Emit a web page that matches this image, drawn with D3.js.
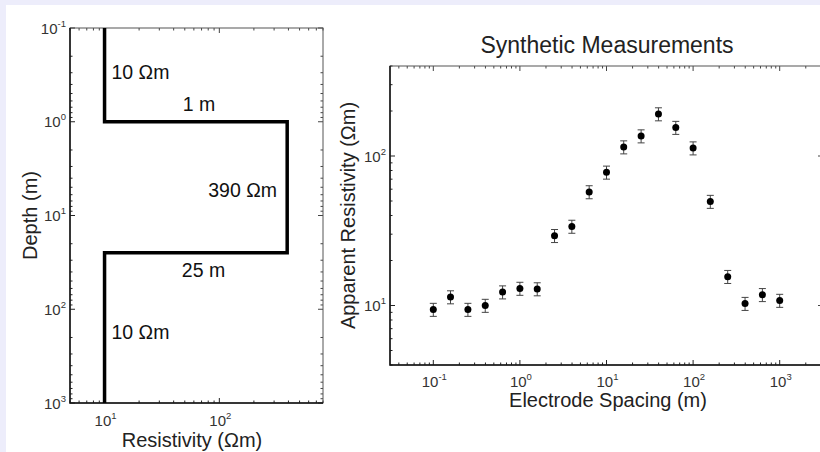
<!DOCTYPE html>
<html>
<head>
<meta charset="utf-8">
<script src="https://cdn.jsdelivr.net/npm/d3@7"></script>
<style>
  html, body { margin: 0; padding: 0; background: #ededfb; }
  svg { display: block; }
  text { font-family: "Liberation Sans", Arial, sans-serif; }
</style>
</head>
<body>
<div id="chart"></div>
<script>
// layered earth model (left panel)
let modelRes = [10, 10, 390, 390, 10, 10]
let modelDepth = [0.1, 1, 1, 25, 25, 1000]
let modelLabels = [
  {text: '10 \u03A9m', res: 11.5, depth: 0.352, anchor: 'start'},
  {text: '1 m', res: 66.5, depth: 0.767, anchor: 'middle'},
  {text: '390 \u03A9m', res: 318, depth: 6.3, anchor: 'end'},
  {text: '25 m', res: 72.8, depth: 45, anchor: 'middle'},
  {text: '10 \u03A9m', res: 11.5, depth: 207, anchor: 'start'}
]

// synthetic measurements (right panel)
let spacing = [0.1, 0.158, 0.251, 0.398, 0.631, 1, 1.585, 2.512, 3.98, 6.31, 10,
               15.8, 25.1, 39.8, 63.1, 100, 158, 251, 398, 631, 1000]
let appRes = [9.4, 11.4, 9.4, 10.0, 12.3, 13.0, 12.9, 29.3, 33.8, 57.5, 77.8,
              114.8, 136, 191, 155, 113, 49.6, 15.6, 10.3, 11.8, 10.8]
let relErr = 0.1

let w = 820
let h = 452

const svg = d3.select('#chart')
  .append('svg')
    .attr('width', w)
    .attr('height', h)

// white figure area
svg.append('rect')
  .attr('x', 6).attr('y', 5)
  .attr('width', w - 6).attr('height', h - 5)
  .attr('fill', 'white')

function powLabel(sel, exp) {
  sel.append('tspan').text('10')
  sel.append('tspan')
    .attr('dy', -7)
    .attr('font-size', 9.5)
    .text(exp)
}

// draws the log ticks on all four sides, pointing inward
function logFrame(g, x, y, width, height, xLabOff) {
  const xt = x.ticks().filter(v => v >= x.domain()[0] && v <= x.domain()[1])
  const yt = y.ticks().filter(v => v >= y.domain()[0] && v <= y.domain()[1])
  const isMajor = v => Math.abs(Math.log10(v) - Math.round(Math.log10(v))) < 1e-6

  xt.forEach(v => {
    let len = isMajor(v) ? 5 : 2.5
    g.append('line').attr('x1', x(v)).attr('x2', x(v)).attr('y1', height).attr('y2', height - len)
      .attr('stroke', '#222')
    g.append('line').attr('x1', x(v)).attr('x2', x(v)).attr('y1', 0).attr('y2', len)
      .attr('stroke', '#444')
  })
  yt.forEach(v => {
    let len = isMajor(v) ? 5 : 2.5
    g.append('line').attr('y1', y(v)).attr('y2', y(v)).attr('x1', 0).attr('x2', len)
      .attr('stroke', '#222')
    g.append('line').attr('y1', y(v)).attr('y2', y(v)).attr('x1', width).attr('x2', width - len)
      .attr('stroke', '#444')
  })

  g.append('rect')
    .attr('width', width).attr('height', height)
    .attr('fill', 'none').attr('stroke', '#555').attr('stroke-width', 1)
  g.append('path')
    .attr('d', 'M0,0V' + height + 'H' + width)
    .attr('fill', 'none').attr('stroke', '#111').attr('stroke-width', 1.5)

  g.selectAll('.xlab')
    .data(xt.filter(isMajor))
    .enter()
    .append('text')
      .attr('x', v => x(v) + 1)
      .attr('y', height + xLabOff)
      .attr('text-anchor', 'middle')
      .attr('font-size', 15)
      .attr('fill', '#333')
      .each(function (v) { powLabel(d3.select(this), Math.round(Math.log10(v))) })

  g.selectAll('.ylab')
    .data(yt.filter(isMajor))
    .enter()
    .append('text')
      .attr('x', -4)
      .attr('y', v => y(v) + 5.5)
      .attr('text-anchor', 'end')
      .attr('font-size', 15)
      .attr('fill', '#333')
      .each(function (v) { powLabel(d3.select(this), Math.round(Math.log10(v))) })
}

// ---- left panel: model ----
const m1 = {left: 70, top: 28, width: 253, height: 375}
const g1 = svg.append('g')
  .attr('transform', 'translate(' + m1.left + ',' + m1.top + ')')

const xRes = d3.scaleLog().domain([5, 800]).range([0, m1.width])
const yDepth = d3.scaleLog().domain([0.1, 1000]).range([0, m1.height])

logFrame(g1, xRes, yDepth, m1.width, m1.height, 22.5)

const modelLine = d3.line()
  .x(d => xRes(d[0]))
  .y(d => yDepth(d[1]))

g1.append('path')
  .datum(d3.zip(modelRes, modelDepth))
  .attr('d', modelLine)
  .attr('fill', 'none')
  .attr('stroke', 'black')
  .attr('stroke-width', 3.5)

g1.selectAll('.mlab')
  .data(modelLabels)
  .enter()
  .append('text')
    .attr('x', d => xRes(d.res))
    .attr('y', d => yDepth(d.depth))
    .attr('text-anchor', d => d.anchor)
    .attr('font-size', 19.5)
    .attr('fill', '#111')
    .text(d => d.text)

svg.append('text')
  .attr('x', 192)
  .attr('y', 446.5)
  .attr('text-anchor', 'middle')
  .attr('font-size', 20)
  .attr('fill', '#222')
  .text('Resistivity (\u03A9m)')

svg.append('text')
  .attr('transform', 'translate(37,' + (m1.top + m1.height / 2) + ') rotate(-90)')
  .attr('text-anchor', 'middle')
  .attr('font-size', 20)
  .attr('fill', '#222')
  .text('Depth (m)')

// ---- right panel: measurements ----
const m2 = {left: 390, top: 66, width: 433, height: 299}
const g2 = svg.append('g')
  .attr('transform', 'translate(' + m2.left + ',' + m2.top + ')')

const xSp = d3.scaleLog().domain([Math.pow(10, -1.5), Math.pow(10, 3.5)]).range([0, m2.width])
const yApp = d3.scaleLog().domain([4, 400]).range([m2.height, 0])

logFrame(g2, xSp, yApp, m2.width, m2.height, 21.5)

const meas = d3.zip(spacing, appRes)

const bars = g2.selectAll('.err')
  .data(meas)
  .enter()
  .append('g')
    .attr('stroke', '#444')
    .attr('stroke-width', 1)

bars.append('line')
  .attr('x1', d => xSp(d[0])).attr('x2', d => xSp(d[0]))
  .attr('y1', d => yApp(d[1] * (1 + relErr)))
  .attr('y2', d => yApp(d[1] * (1 - relErr)))
bars.append('line')
  .attr('x1', d => xSp(d[0]) - 3.5).attr('x2', d => xSp(d[0]) + 3.5)
  .attr('y1', d => yApp(d[1] * (1 + relErr)))
  .attr('y2', d => yApp(d[1] * (1 + relErr)))
bars.append('line')
  .attr('x1', d => xSp(d[0]) - 3.5).attr('x2', d => xSp(d[0]) + 3.5)
  .attr('y1', d => yApp(d[1] * (1 - relErr)))
  .attr('y2', d => yApp(d[1] * (1 - relErr)))

g2.selectAll('circle')
  .data(meas)
  .enter()
  .append('circle')
    .attr('cx', d => xSp(d[0]))
    .attr('cy', d => yApp(d[1]))
    .attr('r', 3.5)
    .attr('fill', 'black')

svg.append('text')
  .attr('x', 607)
  .attr('y', 53)
  .attr('text-anchor', 'middle')
  .attr('font-size', 23)
  .attr('fill', '#222')
  .text('Synthetic Measurements')

svg.append('text')
  .attr('x', 608)
  .attr('y', 407)
  .attr('text-anchor', 'middle')
  .attr('font-size', 20)
  .attr('fill', '#222')
  .text('Electrode Spacing (m)')

svg.append('text')
  .attr('transform', 'translate(355,' + (m2.top + m2.height / 2) + ') rotate(-90)')
  .attr('text-anchor', 'middle')
  .attr('font-size', 20)
  .attr('fill', '#222')
  .text('Apparent Resistivity (\u03A9m)')
</script>
</body>
</html>
